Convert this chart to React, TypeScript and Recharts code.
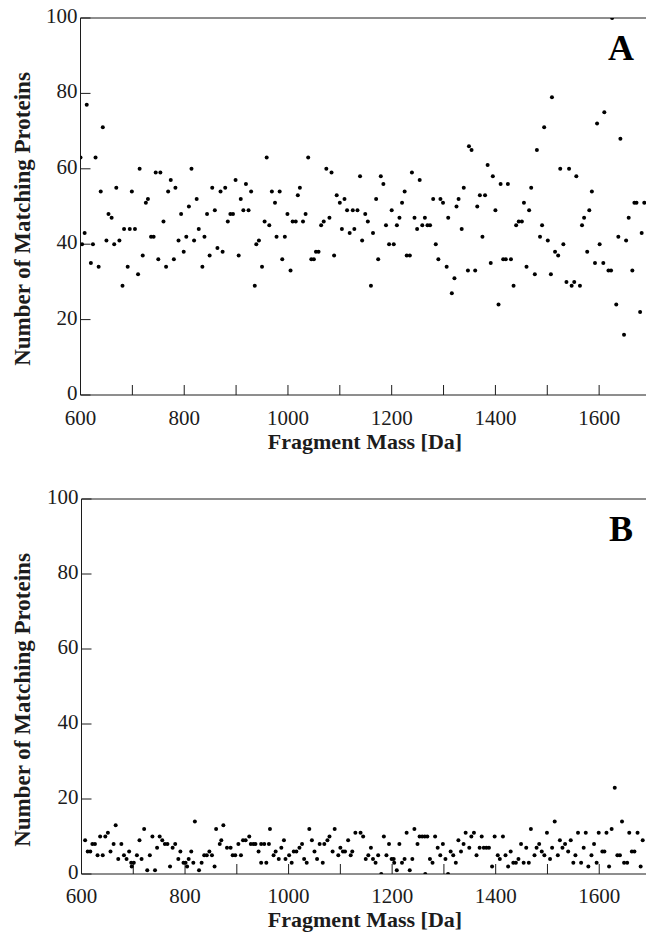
import { ScatterChart, Scatter, XAxis, YAxis, ReferenceLine } from 'recharts';

// Panel A: fragment mass [Da] and number of matching proteins
const massA = [
  600, 603, 608, 612, 620, 624, 629, 635, 639, 643, 650, 654, 660, 665, 669, 675, 681, 684,
  691, 695, 699, 705, 711, 714, 720, 726, 730, 736, 741, 745, 750, 754, 760, 765, 769, 774,
  780, 783, 789, 794, 799, 804, 809, 814, 819, 824, 828, 835, 839, 844, 849, 854, 859, 864,
  870, 874, 879, 884, 889, 894, 899, 905, 909, 914, 919, 924, 929, 936, 939, 944, 950, 955,
  959, 964, 969, 975, 978, 984, 989, 994, 999, 1005, 1009, 1015, 1019, 1023, 1029, 1034, 1039,
  1045, 1050, 1054, 1059, 1064, 1069, 1074, 1080, 1084, 1089, 1094, 1100, 1104, 1109, 1114,
  1119, 1125, 1128, 1134, 1139, 1143, 1149, 1154, 1160, 1164, 1170, 1174, 1179, 1184, 1189,
  1195, 1200, 1204, 1210, 1215, 1220, 1225, 1229, 1235, 1239, 1244, 1249, 1254, 1259, 1264,
  1269, 1274, 1280, 1285, 1290, 1294, 1299, 1306, 1309, 1316, 1321, 1325, 1329, 1335, 1339,
  1347, 1349, 1354, 1361, 1365, 1370, 1375, 1380, 1385, 1391, 1395, 1400, 1406, 1410, 1415,
  1420, 1424, 1430, 1435, 1440, 1445, 1451, 1455, 1460, 1465, 1469, 1476, 1480, 1486, 1490,
  1494, 1501, 1507, 1509, 1515, 1521, 1525, 1531, 1537, 1542, 1547, 1552, 1556, 1563, 1567,
  1571, 1577, 1581, 1586, 1592, 1596, 1601, 1608, 1610, 1618, 1623, 1625, 1633, 1637, 1641,
  1648, 1652, 1657, 1664, 1668, 1672, 1679, 1682, 1687,
];
const matchesA = [
  63, 40, 43, 77, 35, 40, 63, 34, 54, 71, 41, 48, 47, 40, 55, 41, 29, 44,
  34, 44, 54, 44, 32, 60, 37, 51, 52, 42, 42, 59, 36, 59, 46, 34, 54, 57,
  36, 55, 41, 48, 38, 42, 50, 60, 41, 52, 44, 34, 42, 48, 37, 55, 49, 39,
  54, 38, 55, 46, 48, 48, 57, 37, 52, 49, 56, 49, 54, 29, 40, 41, 34, 46,
  63, 45, 54, 51, 42, 54, 36, 42, 48, 33, 46, 46, 53, 55, 46, 48, 63,
  36, 36, 38, 38, 45, 46, 60, 47, 59, 37, 53, 51, 44, 52, 49,
  43, 49, 44, 49, 58, 41, 48, 46, 29, 43, 52, 36, 58, 56, 45,
  40, 49, 40, 45, 47, 51, 54, 37, 37, 59, 47, 44, 57, 45, 47,
  45, 45, 52, 40, 36, 52, 51, 34, 47, 27, 31, 50, 52, 44, 55,
  33, 66, 65, 33, 50, 53, 42, 53, 61, 35, 58, 49, 24, 56, 36,
  36, 56, 36, 29, 45, 46, 46, 51, 34, 49, 55, 32, 65, 42, 45,
  71, 41, 32, 79, 38, 37, 60, 40, 30, 60, 29, 30, 58, 29, 45,
  47, 38, 49, 54, 35, 72, 40, 35, 75, 33, 33, 100, 24, 42, 68,
  16, 41, 47, 33, 51, 51, 22, 43, 51,
];

// Panel B
const massB = [
  607, 612, 617, 621, 626, 631, 636, 641, 646, 651, 656, 662, 666, 671, 677, 682, 687, 692,
  696, 697, 701, 707, 712, 716, 721, 727, 732, 737, 742, 746, 751, 756, 761, 766, 771, 776,
  781, 787, 791, 797, 801, 804, 807, 812, 816, 819, 827, 832, 837, 842, 847, 852, 857, 860,
  867, 870, 874, 881, 888, 892, 897, 903, 908, 912, 917, 924, 927, 932, 936, 942, 947, 947,
  953, 957, 962, 964, 971, 975, 981, 986, 991, 994, 1001, 1006, 1010, 1015, 1021, 1026, 1030,
  1035, 1040, 1045, 1050, 1055, 1060, 1066, 1069, 1075, 1079, 1085, 1089, 1096, 1100, 1105,
  1109, 1115, 1120, 1123, 1129, 1139, 1144, 1149, 1154, 1159, 1163, 1168, 1173, 1179, 1184,
  1189, 1194, 1199, 1203, 1204, 1209, 1214, 1219, 1224, 1228, 1234, 1239, 1243, 1249, 1253,
  1258, 1263, 1264, 1268, 1273, 1278, 1283, 1288, 1293, 1298, 1303, 1308, 1313, 1318, 1323,
  1328, 1333, 1338, 1342, 1349, 1353, 1358, 1363, 1369, 1373, 1377, 1382, 1387, 1393, 1398,
  1404, 1408, 1414, 1419, 1424, 1429, 1434, 1439, 1444, 1449, 1454, 1459, 1464, 1468, 1475,
  1479, 1484, 1489, 1494, 1499, 1505, 1509, 1514, 1520, 1524, 1529, 1534, 1540, 1545, 1550,
  1554, 1559, 1565, 1570, 1574, 1579, 1585, 1590, 1595, 1599, 1606, 1610, 1614, 1619, 1624,
  1630, 1635, 1640, 1644, 1648, 1654, 1658, 1663, 1668, 1674, 1680, 1684,
];
const matchesB = [
  9, 6, 6, 8, 8, 5, 10, 5, 10, 11, 6, 8, 13, 4, 8, 5, 4, 6,
  3, 2, 3, 5, 9, 4, 12, 1, 5, 10, 1, 7, 10, 9, 8, 8, 2, 7,
  8, 4, 6, 3, 3, 2, 4, 6, 3, 14, 1, 3, 5, 5, 6, 5, 2, 12,
  8, 9, 13, 7, 7, 5, 5, 8, 5, 9, 9, 10, 8, 8, 8, 6, 8, 3,
  8, 3, 8, 12, 5, 6, 4, 7, 9, 4, 5, 3, 6, 6, 7, 8, 4,
  3, 12, 9, 6, 4, 8, 3, 8, 9, 10, 6, 12, 5, 7, 6,
  6, 9, 5, 6, 11, 11, 10, 4, 5, 7, 4, 3, 5, 0, 10,
  5, 8, 4, 4, 3, 1, 8, 3, 4, 11, 1, 4, 12, 8, 10,
  10, 10, 0, 10, 4, 3, 10, 7, 5, 8, 4, 0, 6, 5, 3,
  9, 6, 8, 11, 7, 10, 11, 5, 7, 10, 7, 7, 7, 2, 10,
  5, 4, 10, 5, 2, 6, 3, 3, 4, 8, 3, 7, 3, 12, 5,
  7, 8, 6, 5, 11, 4, 7, 14, 5, 9, 7, 8, 6, 9, 3,
  5, 11, 3, 7, 11, 2, 5, 8, 3, 11, 6, 6, 11, 2, 12,
  23, 5, 5, 14, 3, 3, 11, 6, 6, 11, 2, 9,
];

const massTicks = [600, 700, 800, 900, 1000, 1100, 1200, 1300, 1400, 1500, 1600, 1700];
const countTicks = [0, 20, 40, 60, 80, 100];

const SERIF = '"Liberation Serif", "DejaVu Serif", serif';
const INK = '#1c1c1c';
const TICK_FONT = 21;

function Dot(props: any) {
  if (props.cx == null || props.cy == null) return null;
  return <circle cx={props.cx} cy={props.cy} r={2} fill="#000" />;
}

// only every other mass tick gets a label
function MassTick(props: any) {
  const v = props.payload?.value;
  if (v % 200 !== 0 || v >= 1700) return <g />;
  return (
    <text x={props.x} y={props.y} dy={16} textAnchor="middle" fontSize={TICK_FONT} fill={INK} style={{ fontFamily: SERIF }}>
      {v}
    </text>
  );
}

function CountTick(props: any) {
  return (
    <text x={props.x} y={props.y} dy={5} textAnchor="end" fontSize={TICK_FONT} fill={INK} style={{ fontFamily: SERIF }}>
      {props.payload?.value}
    </text>
  );
}

interface PanelProps {
  mass: number[];
  matches: number[];
  letter: string;
  top: number;
  marginLeft: number;
  marginBottom: number;
  labelGap: number;
  titleY: number;
}

function Panel({ mass, matches, letter, top, marginLeft, marginBottom, labelGap, titleY }: PanelProps) {
  const data = mass.map((m, i) => ({ mass: m, matches: matches[i] }));
  const titleStyle = { fontFamily: SERIF, fontWeight: 700 };
  return (
    <div style={{ position: 'absolute', top, left: 0 }}>
      <ScatterChart
        width={720}
        height={470}
        margin={{ top: 18, right: 9, bottom: marginBottom, left: marginLeft }}
      >
        <XAxis
          dataKey="mass"
          type="number"
          domain={[600, 1700]}
          ticks={massTicks}
          allowDataOverflow
          height={30}
          stroke={INK}
          tickSize={-10}
          tickMargin={labelGap}
          tick={<MassTick />}
        />
        <YAxis
          yAxisId="l"
          dataKey="matches"
          type="number"
          domain={[0, 100]}
          ticks={countTicks}
          allowDataOverflow
          width={60}
          stroke={INK}
          tickSize={-10}
          tickMargin={13}
          tick={<CountTick />}
        />
        <YAxis
          yAxisId="r"
          orientation="right"
          type="number"
          domain={[0, 100]}
          ticks={countTicks}
          width={60}
          stroke={INK}
          tickSize={-10}
          tick={<g />}
        />
        <ReferenceLine yAxisId="l" y={100} stroke={INK} />
        <Scatter
          yAxisId="l"
          data={data}
          dataKey="matches"
          shape={<Dot />}
          isAnimationActive={false}
        />
        <text
          x={30}
          y={219}
          transform="rotate(-90, 30, 219)"
          textAnchor="middle"
          fontSize={23}
          fill={INK}
          style={titleStyle}
        >
          Number of Matching Proteins
        </text>
        <text x={365} y={titleY} textAnchor="middle" fontSize={22} fill={INK} style={titleStyle}>
          Fragment Mass [Da]
        </text>
        <text x={621} y={60} textAnchor="middle" fontSize={36} fill="#000" style={titleStyle}>
          {letter}
        </text>
      </ScatterChart>
    </div>
  );
}

export default function App() {
  return (
    <div
      style={{
        position: 'absolute',
        top: 0,
        left: 0,
        width: 646,
        height: 932,
        overflow: 'hidden',
        background: '#fff',
      }}
    >
      <Panel mass={massA} matches={matchesA} letter="A" top={0} marginLeft={20.5} marginBottom={45} labelGap={24} titleY={449} />
      <Panel mass={massB} matches={matchesB} letter="B" top={481} marginLeft={21.5} marginBottom={47} labelGap={22.5} titleY={446} />
    </div>
  );
}
